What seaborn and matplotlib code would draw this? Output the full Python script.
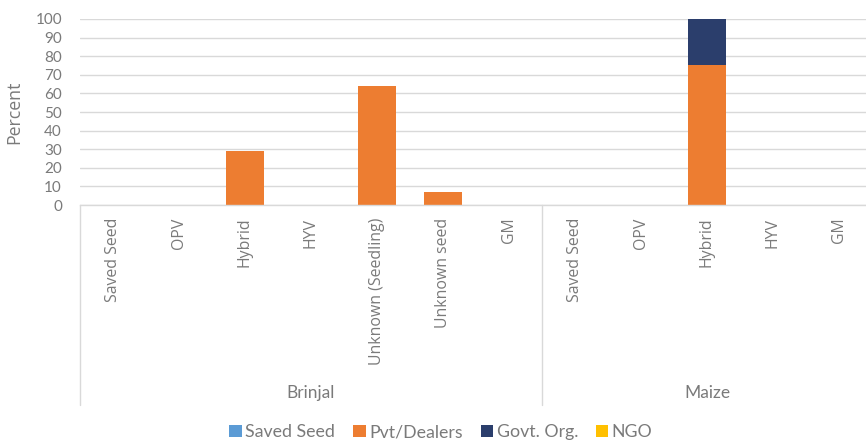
import numpy as np
import pandas as pd
import matplotlib
matplotlib.use("Agg")
import matplotlib.pyplot as plt
import seaborn as sns
from matplotlib.patches import Patch

# Crop groups and seed types on the category axis
crops = ["Brinjal"] * 7 + ["Maize"] * 5
seed_types = ["Saved Seed", "OPV", "Hybrid", "HYV", "Unknown (Seedling)", "Unknown seed", "GM",
              "Saved Seed", "OPV", "Hybrid", "HYV", "GM"]

# Percent of farmers by seed source
saved_seed = [0, 0, 0, 0, 0, 0, 0, 0, 0, 0, 0, 0]
pvt_dealers = [0, 0, 29, 0, 64, 7, 0, 0, 0, 75, 0, 0]
govt_org = [0, 0, 0, 0, 0, 0, 0, 0, 0, 25, 0, 0]
ngo = [0, 0, 0, 0, 0, 0, 0, 0, 0, 0, 0, 0]

sources = ["Saved Seed", "Pvt/Dealers", "Govt. Org.", "NGO"]
colors = ["#5B9BD5", "#ED7D31", "#2B3E6C", "#FFC000"]

keys = [f"{c}|{s}" for c, s in zip(crops, seed_types)]
df = pd.DataFrame({"key": keys, "Saved Seed": saved_seed, "Pvt/Dealers": pvt_dealers,
                   "Govt. Org.": govt_org, "NGO": ngo})

sns.set_theme(style="white")
wide = ["Open Sans", "DejaVu Sans"]
narrow = ["Lato", "DejaVu Sans"]
plt.rcParams["font.family"] = wide
text_gray = "#7A7A7A"

fig = plt.figure(figsize=(8.66, 4.4), dpi=100)
ax = fig.add_axes([80 / 866, 235 / 440, 792 / 866, 186 / 440])

# Stacked bars: draw cumulative totals from the top layer downward
cum = df[sources].cumsum(axis=1)
for i in range(len(sources) - 1, -1, -1):
    sns.barplot(x=df["key"], y=cum[sources[i]], order=keys, color=colors[i],
                width=0.58, saturation=1, ax=ax, linewidth=0)

ax.set_ylim(0, 100)
ax.set_xlim(-0.5, len(keys) - 0.5)
ax.set_yticks(np.arange(0, 101, 10))
ax.yaxis.grid(True, color="#D9D9D9", linewidth=1)
ax.set_axisbelow(True)
for side in ["top", "right", "left"]:
    ax.spines[side].set_visible(False)
ax.spines["bottom"].set_color("#D9D9D9")
ax.spines["bottom"].set_linewidth(1)
ax.tick_params(axis="y", length=0, labelcolor=text_gray, pad=13)
for lbl in ax.get_yticklabels():
    lbl.set_family(narrow)
    lbl.set_fontsize(11)
ax.set_ylabel("Percent", fontsize=12.8, color=text_gray, labelpad=9, family=wide)
ax.set_xlabel("")

# Seed-type labels, rotated
ax.set_xticks(range(len(keys)))
ax.set_xticklabels(seed_types, rotation=90, color=text_gray, va="top")
for lbl in ax.get_xticklabels():
    lbl.set_family(wide)
    lbl.set_fontsize(11.4)
ax.tick_params(axis="x", length=0, pad=9)

# Crop group labels and divider lines below the axis
tr = ax.get_xaxis_transform()
line_bottom = -1.075
for xpos in [-0.5, 6.5, 11.5]:
    ax.plot([xpos, xpos], [0, line_bottom], transform=tr, color="#D9D9D9",
            linewidth=1, clip_on=False)
for name, center in [("Brinjal", 3.0), ("Maize", 9.0)]:
    ax.text(center, -1.01, name, transform=tr, ha="center", va="center",
            fontsize=12.5, color=text_gray, family=narrow)

handles = [Patch(facecolor=c, edgecolor="none") for c in colors]
leg = fig.legend(handles, sources, loc="center", bbox_to_anchor=(441 / 866, 8 / 440),
                 ncol=4, frameon=False, handlelength=0.7, handleheight=0.7,
                 handletextpad=0.2, columnspacing=1.0,
                 prop={"family": narrow, "size": 12.8})
for t in leg.get_texts():
    t.set_color(text_gray)

fig.savefig("out.png", dpi=100)
